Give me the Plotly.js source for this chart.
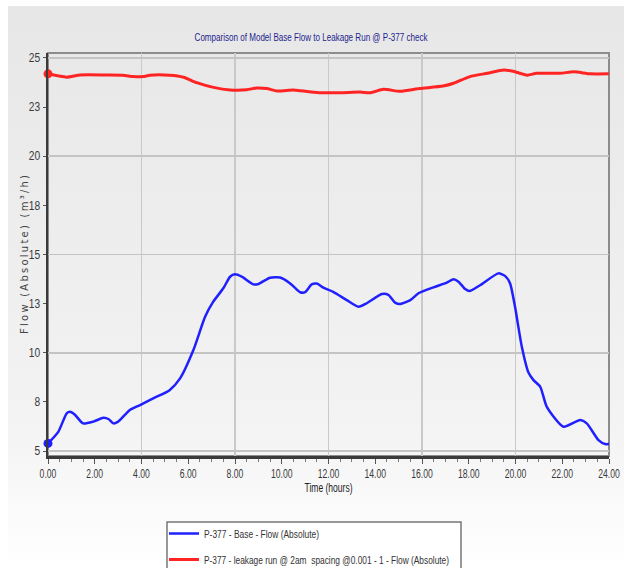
<!DOCTYPE html>
<html>
<head>
<meta charset="utf-8">
<script src="https://cdn.plot.ly/plotly-3.0.1.min.js"></script>
<style>
  html, body { margin: 0; padding: 0; background: #ffffff; }
  #bg { position: absolute; left: 8px; top: 6px; width: 616px; height: 562px;
        background: linear-gradient(to bottom, #e7e7e7 0px, #ebebeb 150px, #f3f3f3 420px, #fafafa 500px, #ffffff 560px); }
  #chart { position: absolute; left: 0; top: 0; width: 624px; height: 568px; }
</style>
</head>
<body>
<div id="bg"></div>
<div id="chart"></div>
<script>
// ---- data ----
const baseTime = [0, 0.44, 0.8, 0.94, 1.15, 1.5, 1.94, 2.37, 2.6, 2.8, 3.0, 3.5, 3.94, 4.5, 5.2, 5.65, 6.22, 6.72, 7.07, 7.5, 7.79, 8.0, 8.29, 8.79, 9.0, 9.5, 9.93, 10.36, 10.57, 10.79, 11.0, 11.28, 11.5, 11.78, 12.2, 12.78, 13.28, 13.64, 14.28, 14.56, 14.85, 15.07, 15.5, 15.85, 16.49, 17.06, 17.35, 17.56, 17.85, 18.03, 18.5, 19.27, 19.56, 19.77, 19.98, 20.27, 20.56, 20.77, 21.06, 21.34, 22.05, 22.77, 23.05, 23.55, 23.83, 24];
const baseFlow = [5.39, 5.98, 6.92, 7.0, 6.85, 6.41, 6.5, 6.69, 6.62, 6.41, 6.5, 7.09, 7.34, 7.68, 8.1, 8.7, 10.14, 11.83, 12.6, 13.28, 13.87, 13.99, 13.87, 13.48, 13.5, 13.82, 13.83, 13.53, 13.3, 13.08, 13.08, 13.48, 13.52, 13.31, 13.1, 12.68, 12.34, 12.52, 12.99, 12.95, 12.55, 12.48, 12.68, 13.03, 13.33, 13.57, 13.74, 13.62, 13.24, 13.14, 13.45, 14.04, 13.9, 13.53, 12.34, 10.31, 8.98, 8.61, 8.27, 7.25, 6.24, 6.58, 6.41, 5.56, 5.36, 5.36];

const leakTime = [0, 0.8, 1.37, 2.5, 3.2, 3.65, 4.07, 4.36, 5.2, 5.8, 6.36, 7.08, 7.8, 8.5, 8.93, 9.36, 9.8, 10.5, 10.8, 11.6, 12.5, 13.35, 13.8, 14.35, 15.07, 15.9, 16.9, 17.35, 18.05, 18.8, 19.5, 19.9, 20.5, 20.9, 21.9, 22.5, 23.2, 24];
const leakFlow = [24.19, 24.02, 24.13, 24.13, 24.12, 24.05, 24.05, 24.12, 24.12, 24.02, 23.74, 23.5, 23.37, 23.38, 23.47, 23.44, 23.32, 23.37, 23.33, 23.23, 23.23, 23.26, 23.23, 23.4, 23.3, 23.44, 23.57, 23.71, 24.05, 24.22, 24.39, 24.32, 24.12, 24.22, 24.22, 24.29, 24.19, 24.19];

const yTickVals = [5, 7.5, 10, 12.5, 15, 17.5, 20, 22.5, 25];
const yTickText = ['5', '8', '10', '13', '15', '18', '20', '23', '25'];
const xTickVals = [0, 2, 4, 6, 8, 10, 12, 14, 16, 18, 20, 22, 24];

const seriesNames = ['P-377 - Base - Flow (Absolute)',
                     'P-377 - leakage run @ 2am\u00a0 spacing @0.001 - 1 - Flow (Absolute)'];

const FONT = '"Liberation Sans", Arial, sans-serif';
const BLUE = '#2020ff', RED = '#ff2424';

const traces = [
  {x: [], y: [], xaxis: 'x', yaxis: 'y', showlegend: false, hoverinfo: 'skip', mode: 'lines'},
  {x: baseTime, y: baseFlow, xaxis: 'x2', yaxis: 'y2', mode: 'lines', name: seriesNames[0],
   legendgroup: 'a', line: {color: BLUE, width: 2.5, shape: 'spline', smoothing: 0.6}},
  {x: leakTime, y: leakFlow, xaxis: 'x2', yaxis: 'y2', mode: 'lines', name: seriesNames[1],
   legendgroup: 'b', line: {color: RED, width: 3, shape: 'spline', smoothing: 0.6}},
  {x: [baseTime[0]], y: [baseFlow[0]], xaxis: 'x2', yaxis: 'y2', mode: 'markers', showlegend: false,
   marker: {color: BLUE, size: 9}, hoverinfo: 'skip', cliponaxis: false},
  {x: [leakTime[0]], y: [leakFlow[0]], xaxis: 'x2', yaxis: 'y2', mode: 'markers', showlegend: false,
   marker: {color: RED, size: 9}, hoverinfo: 'skip', cliponaxis: false}
];

const xRange = [0, 24], yRange = [4.75, 25.25];

const layout = {
  width: 624, height: 568,
  margin: {l: 48, r: 15, t: 53, b: 112, autoexpand: false},
  paper_bgcolor: 'rgba(0,0,0,0)',
  plot_bgcolor: 'rgba(0,0,0,0)',
  font: {family: FONT, size: 11, color: '#333'},
  title: {text: 'Comparison of Model Base Flow to Leakage Run @ P-377 check',
          font: {family: FONT, size: 11, color: '#1e1e8e'},
          x: 0.4985, xanchor: 'center', y: 1 - 37 / 568, yanchor: 'middle', yref: 'container'},
  xaxis: {range: xRange, dtick: 4, tick0: 0, showgrid: true, gridcolor: '#c9c9c9', gridwidth: 1.5,
          showticklabels: false, ticks: '', zeroline: false, showline: false, fixedrange: true},
  yaxis: {range: yRange, dtick: 5, tick0: 0, showgrid: true, gridcolor: '#c4c4c4', gridwidth: 1.5,
          showticklabels: false, ticks: '', zeroline: false, showline: false, fixedrange: true},
  xaxis2: {overlaying: 'x', anchor: 'y', side: 'bottom', range: xRange,
           tickmode: 'array', tickvals: xTickVals, tickformat: '.2f', ticklabeloverflow: 'allow',
           ticks: 'outside', ticklen: 5, tickcolor: '#555', tickwidth: 1,
           minor: {dtick: 0.5, tick0: 0, ticks: 'outside', ticklen: 3, tickcolor: '#777', showgrid: false},
           showgrid: false, zeroline: false, showline: true, linecolor: '#3a3a3a', linewidth: 2.5,
           tickfont: {family: FONT, size: 12, color: '#3a3a3a'},
           title: {text: 'Time (hours)', font: {family: FONT, size: 12, color: '#222'}, standoff: 4}},
  yaxis2: {overlaying: 'y', anchor: 'x', side: 'left', range: yRange,
           tickmode: 'array', tickvals: yTickVals, ticktext: yTickText,
           ticks: 'outside', ticklen: 3, tickcolor: '#555', tickwidth: 1,
           showgrid: false, zeroline: false, showline: true, linecolor: '#3a3a3a', linewidth: 2.5,
           tickfont: {family: FONT, size: 12, color: '#3a3a3a'},
           title: {text: 'Flow (Absolute) (m³/h)', font: {family: '"DejaVu Sans", sans-serif', size: 10, color: '#444'}, standoff: 0}},
  shapes: [
    {type: 'rect', xref: 'paper', yref: 'paper', x0: 0, x1: 1, y0: 0, y1: 1,
     line: {color: '#8c8c8c', width: 2}, fillcolor: 'rgba(0,0,0,0)', layer: 'below'},
    {type: 'rect', xref: 'paper', yref: 'paper', x0: (167 - 48) / 561, x1: (461 - 48) / 561,
     y0: -0.4, y1: (456 - 522) / 403,
     line: {color: '#777', width: 1.5}, fillcolor: '#ffffff', layer: 'below'}
  ],
  showlegend: true,
  legend: {x: (164 - 48) / 561, xanchor: 'left', y: (456 - 519) / 403, yanchor: 'top',
           bgcolor: 'rgba(0,0,0,0)', borderwidth: 0, tracegroupgap: 7,
           font: {family: FONT, size: 11, color: '#333'}, itemwidth: 30}
};

// condense texts horizontally to mimic the narrow font of the original
function squeeze(sel, opts) {
  document.querySelectorAll(sel).forEach(function (t, i) {
    const w = t.getComputedTextLength();
    if (!w) return;
    let target;
    if (opts.widths) target = opts.widths[i] !== undefined ? opts.widths[i] : w * (opts.factor || 1);
    else target = w * opts.factor;
    t.setAttribute('textLength', target);
    t.setAttribute('lengthAdjust', opts.adjust || 'spacingAndGlyphs');
  });
}

Plotly.newPlot('chart', traces, layout, {displayModeBar: false, staticPlot: true}).then(function () {
  squeeze('.gtitle', {widths: [233]});
  squeeze('.legendtext', {widths: [115, 245]});
  squeeze('.x2tick text', {factor: 0.72});
  squeeze('.y2tick text', {factor: 0.85});
  squeeze('.x2title', {widths: [48]});
  squeeze('.y2title', {widths: [159], adjust: 'spacing'});
  const yt = document.querySelector('.y2title');
  if (yt) {
    const x = parseFloat(yt.getAttribute('x')) + 4, y = parseFloat(yt.getAttribute('y'));
    yt.setAttribute('x', x);
    yt.setAttribute('transform', 'rotate(-90,' + x + ',' + y + ')');
  }
});
</script>
</body>
</html>
